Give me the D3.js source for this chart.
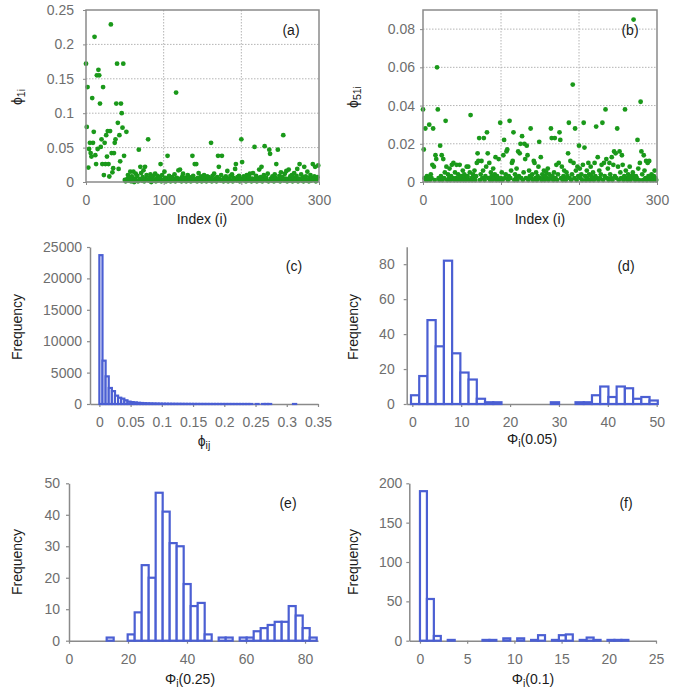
<!DOCTYPE html>
<html>
<head>
<meta charset="utf-8">
<script src="https://cdnjs.cloudflare.com/ajax/libs/d3/7.8.5/d3.min.js"></script>
<style>
body { margin: 0; background: #fff; }
text { font-family: "Liberation Sans", Arial, sans-serif; }
.tick text { fill: #6e6e6e; font-size: 14px; }
.title { fill: #1a1a1a; font-size: 14px; }
</style>
</head>
<body>
<script>
// (a) phi_1i, index 0..299
var phi1 = [
 0.172,0.080,0.138,0.021,0.048,0.057,0.042,0.037,0.122,0.057,
 0.073,0.211,0.039,0.026,0.155,0.048,0.163,0.155,0.114,0.051,
 0.062,0.026,0.138,0.010,0.057,0.026,0.068,0.037,0.074,0.026,
 0.008,0.074,0.229,0.042,0.014,0.020,0.042,0.057,0.062,0.114,
 0.172,0.086,0.019,0.068,0.030,0.114,0.100,0.079,0.172,0.038,
 0.003,0.001,0.073,0.004,0.010,0.002,0.006,0.015,0.001,0.008,
 0.003,0.015,0.000,0.005,0.012,0.002,0.009,0.001,0.047,0.004,
 0.022,0.013,0.002,0.007,0.017,0.001,0.022,0.005,0.010,0.003,
 0.062,0.002,0.006,0.011,0.000,0.004,0.008,0.002,0.003,0.012,
 0.001,0.005,0.009,0.002,0.004,0.007,0.026,0.001,0.010,0.003,
 0.002,0.015,0.006,0.001,0.004,0.038,0.002,0.009,0.005,0.001,
 0.003,0.007,0.002,0.004,0.011,0.001,0.130,0.006,0.003,0.017,
 0.002,0.018,0.005,0.001,0.008,0.012,0.003,0.002,0.006,0.001,
 0.004,0.010,0.002,0.007,0.003,0.001,0.005,0.038,0.009,0.002,
 0.026,0.004,0.026,0.001,0.006,0.013,0.002,0.004,0.008,0.001,
 0.003,0.006,0.010,0.002,0.005,0.001,0.008,0.003,0.007,0.002,
 0.004,0.057,0.001,0.009,0.003,0.012,0.002,0.005,0.001,0.007,
 0.038,0.022,0.004,0.002,0.010,0.038,0.003,0.001,0.006,0.002,
 0.008,0.004,0.016,0.001,0.005,0.003,0.009,0.002,0.011,0.001,
 0.006,0.004,0.019,0.026,0.002,0.007,0.003,0.009,0.001,0.005,
 0.062,0.029,0.003,0.008,0.002,0.006,0.001,0.010,0.004,0.002,
 0.007,0.012,0.003,0.001,0.005,0.013,0.002,0.051,0.004,0.009,
 0.001,0.006,0.003,0.018,0.002,0.007,0.022,0.001,0.004,0.010,
 0.052,0.003,0.006,0.002,0.012,0.001,0.047,0.041,0.005,0.002,
 0.008,0.003,0.001,0.011,0.006,0.026,0.002,0.047,0.004,0.009,
 0.001,0.014,0.003,0.007,0.068,0.002,0.012,0.005,0.016,0.001,
 0.004,0.018,0.002,0.008,0.003,0.010,0.001,0.006,0.013,0.002,
 0.004,0.009,0.019,0.001,0.005,0.026,0.003,0.011,0.002,0.007,
 0.001,0.022,0.004,0.008,0.002,0.015,0.003,0.001,0.006,0.010,
 0.002,0.005,0.026,0.003,0.008,0.022,0.001,0.004,0.007,0.024
];
// (b) phi_51i, index 0..299
var phi51 = [
 0.038,0.017,0.002,0.028,0.001,0.003,0.001,0.002,0.030,0.001,
 0.004,0.002,0.009,0.028,0.008,0.001,0.014,0.012,0.060,0.038,
 0.002,0.001,0.019,0.003,0.014,0.001,0.012,0.002,0.005,0.032,
 0.008,0.001,0.004,0.002,0.007,0.001,0.003,0.009,0.002,0.010,
 0.001,0.005,0.002,0.009,0.001,0.004,0.002,0.009,0.001,0.003,
 0.002,0.006,0.001,0.004,0.002,0.001,0.008,0.003,0.008,0.001,
 0.005,0.035,0.002,0.001,0.004,0.002,0.006,0.001,0.003,0.010,
 0.015,0.011,0.023,0.001,0.004,0.011,0.002,0.006,0.023,0.001,
 0.003,0.008,0.026,0.015,0.002,0.010,0.001,0.005,0.003,0.001,
 0.007,0.002,0.004,0.013,0.001,0.003,0.002,0.012,0.001,0.031,
 0.002,0.005,0.001,0.014,0.022,0.002,0.004,0.016,0.017,0.001,
 0.003,0.032,0.002,0.006,0.010,0.011,0.026,0.001,0.004,0.002,
 0.007,0.001,0.016,0.003,0.015,0.020,0.002,0.024,0.001,0.005,
 0.020,0.012,0.002,0.019,0.014,0.001,0.006,0.003,0.028,0.002,
 0.004,0.001,0.011,0.010,0.002,0.005,0.001,0.003,0.008,0.021,
 0.002,0.013,0.001,0.004,0.002,0.006,0.001,0.003,0.005,0.002,
 0.007,0.001,0.004,0.002,0.028,0.023,0.003,0.001,0.005,0.023,
 0.002,0.009,0.001,0.004,0.010,0.026,0.022,0.002,0.008,0.001,
 0.003,0.006,0.002,0.001,0.005,0.003,0.015,0.031,0.002,0.011,
 0.001,0.004,0.051,0.010,0.002,0.028,0.006,0.001,0.008,0.003,
 0.019,0.007,0.002,0.004,0.001,0.009,0.031,0.018,0.003,0.001,
 0.006,0.002,0.010,0.004,0.001,0.008,0.003,0.002,0.005,0.001,
 0.010,0.003,0.029,0.002,0.013,0.001,0.006,0.002,0.004,0.009,
 0.031,0.001,0.010,0.003,0.038,0.012,0.002,0.007,0.001,0.010,
 0.004,0.002,0.013,0.001,0.009,0.016,0.003,0.015,0.002,0.028,
 0.008,0.001,0.016,0.005,0.002,0.014,0.009,0.001,0.003,0.038,
 0.006,0.002,0.001,0.004,0.002,0.008,0.001,0.003,0.002,0.005,
 0.085,0.003,0.001,0.003,0.002,0.022,0.007,0.001,0.010,0.042,
 0.016,0.004,0.001,0.014,0.006,0.002,0.011,0.001,0.010,0.003,
 0.011,0.002,0.001,0.004,0.002,0.001,0.003,0.006,0.002,0.001
];
var idxTicks = [0, 100, 200, 300];
var aYTicks = [0, 0.05, 0.1, 0.15, 0.2, 0.25];
var bYTicks = [0, 0.02, 0.04, 0.06, 0.08];

// (c) phi_ij histogram, bins of 0.005 from 0
var cStart = 0, cWidth = 0.005;
var cCounts = [23700,6900,4400,2550,2050,1330,1000,850,590,380,
 300,250,190,160,130,110,95,80,70,60,
 52,45,40,35,30,27,24,20,18,16,
 14,12,10,9,8,7,6,6,5,4,
 4,3,3,2,2,2,1,1,1,0,
 1,0,1,1,1,0,0,0,0,0,
 0,0,1,0,0,0,0,0,0,0];
var cXTicks = [0, 0.05, 0.1, 0.15, 0.2, 0.25, 0.3, 0.35];
var cYTicks = [0, 5000, 10000, 15000, 20000, 25000];

// (d) Phi_i(0.05)
var dStart = -0.27, dWidth = 1.683;
var dCounts = [5,16,48,33,82,29,18,14,3,1, 1,0,0,0,0,0,0,1,0,0, 1,1,5,10,4,10,9,3,4,2];
var dXTicks = [0, 10, 20, 30, 40, 50];
var dYTicks = [0, 20, 40, 60, 80];

// (e) Phi_i(0.25)
var eStart = 12.77, eWidth = 2.373;
var eCounts = [1,0,0,2,9,24,20,47,41,31, 30,18,11,12,2,0,1,1,0,1, 1,3,4,5,6,6,11,8,4,1];
var eXTicks = [0, 20, 40, 60, 80];
var eYTicks = [0, 10, 20, 30, 40, 50];

// (f) Phi_i(0.1)
var fStart = 0, fWidth = 0.7357;
var fCounts = [190,53,6,0,1,0,0,0,0,1, 1,0,3,0,3,0,1,7,0,1, 7,8,0,1,4,1,0,1,1,1];
var fXTicks = [0, 5, 10, 15, 20, 25];
var fYTicks = [0, 50, 100, 150, 200];

var green = "#1a991a", blue = "#4b5fd3", axisGrey = "#8a8a8a";

var svg = d3.select("body").append("svg").attr("width", 685).attr("height", 696);

function label(x, y, main, sub, tail, rotate) {
  var t = svg.append("text").attr("class", "title").attr("text-anchor", "middle");
  if (rotate) t.attr("transform", "translate(" + x + "," + y + ") rotate(-90)");
  else t.attr("x", x).attr("y", y);
  t.append("tspan").text(main);
  if (sub) t.append("tspan").attr("font-size", "10.5px").attr("dy", 3).text(sub);
  if (tail) t.append("tspan").attr("dy", -3).text(tail);
  return t;
}

function tag(x, y, s) {
  svg.append("text").attr("class", "title").attr("x", x).attr("y", y)
    .attr("text-anchor", "middle").text(s);
}

function scatterPanel(vals, x0, x1, yMax, yTicks, pad) {
  var y0 = 10, y1 = 182;
  var x = d3.scaleLinear().domain([0, 300]).range([x0, x1]);
  var y = d3.scaleLinear().domain([0, yMax]).range([y1, y0]);
  var g = svg.append("g");
  g.selectAll(".gx").data(idxTicks.slice(1, 3)).join("line")
    .attr("x1", d => x(d)).attr("x2", d => x(d)).attr("y1", y0).attr("y2", y1)
    .attr("stroke", "#b4b4b4").attr("stroke-dasharray", "1.5,1.5");
  g.selectAll(".gy").data(yTicks.filter(d => d > 0 && y(d) > y0 + 1)).join("line")
    .attr("x1", x0).attr("x2", x1).attr("y1", d => y(d)).attr("y2", d => y(d))
    .attr("stroke", "#b4b4b4").attr("stroke-dasharray", "1.5,1.5");
  g.append("g").attr("transform", "translate(0," + y1 + ")")
    .call(d3.axisBottom(x).tickValues(idxTicks).tickFormat(d => d).tickSize(3).tickPadding(10))
    .call(s => s.select(".domain").remove())
    .call(s => s.selectAll(".tick line").attr("stroke", axisGrey));
  g.append("g").attr("transform", "translate(" + x0 + ",0)")
    .call(d3.axisLeft(y).tickValues(yTicks).tickFormat(d => d).tickSize(3).tickPadding(pad))
    .call(s => s.select(".domain").remove())
    .call(s => s.selectAll(".tick line").attr("stroke", axisGrey));
  g.append("g").selectAll("circle").data(vals).join("circle")
    .attr("cx", (d, i) => x(i)).attr("cy", d => y(d)).attr("r", 2.4).attr("fill", green);
  g.append("rect").attr("x", x0).attr("y", y0).attr("width", x1 - x0).attr("height", y1 - y0)
    .attr("fill", "none").attr("stroke", axisGrey).attr("stroke-width", 1.5);
}

function histPanel(counts, start, width, xDom, xr, yr, yMax, xTicks, yTicks, pad) {
  var x = d3.scaleLinear().domain(xDom).range(xr);
  var y = d3.scaleLinear().domain([0, yMax]).range(yr);
  var bins = counts.map((c, k) => ({ x0: start + k * width, x1: start + (k + 1) * width, c: c }))
    .filter(b => b.c > 0);
  var g = svg.append("g");
  g.append("g").attr("transform", "translate(0," + yr[0] + ")")
    .call(d3.axisBottom(x).tickValues(xTicks).tickFormat(d => d).tickSize(3).tickSizeOuter(0).tickPadding(10))
    .call(s => s.select(".domain").attr("stroke", axisGrey).attr("stroke-width", 1.5))
    .call(s => s.selectAll(".tick line").attr("stroke", axisGrey).attr("stroke-width", 1.2));
  g.append("g").attr("transform", "translate(" + xr[0] + ",0)")
    .call(d3.axisLeft(y).tickValues(yTicks).tickFormat(d => d).tickSize(3).tickSizeOuter(0).tickPadding(pad))
    .call(s => s.select(".domain").attr("stroke", axisGrey).attr("stroke-width", 1.5))
    .call(s => s.selectAll(".tick line").attr("stroke", axisGrey).attr("stroke-width", 1.2));
  g.append("g").selectAll("rect").data(bins).join("rect")
    .attr("x", b => x(b.x0)).attr("width", b => x(b.x1) - x(b.x0))
    .attr("y", b => y(b.c)).attr("height", b => y(0) - y(b.c))
    .attr("fill", "#fff").attr("stroke", blue).attr("stroke-width", 2.2);
}

// (a)
scatterPanel(phi1, 86, 319, 0.25, aYTicks, 9);
label(202, 224, "Index (i)");
label(22, 97, "\u03D5", "1i", null, true);
tag(291, 35, "(a)");

// (b)
scatterPanel(phi51, 423, 657, 0.09, bYTicks, 5);
label(540, 224, "Index (i)");
label(358, 97, "\u03D5", "51i", null, true);
tag(630, 35, "(b)");

// (c)
histPanel(cCounts, cStart, cWidth, [-0.015, 0.35], [90, 318], [404, 247], 25000, cXTicks, cYTicks, 5);
label(204, 446, "\u03D5", "ij");
label(22, 327, "Frequency", null, null, true);
tag(294, 271, "(c)");

// (d)
histPanel(dCounts, dStart, dWidth, [-1.15, 50], [406.7, 656.7], [404, 246.7], 90, dXTicks, dYTicks, 9);
label(532, 444, "\u03A6", "i", "(0.05)");
label(358, 327, "Frequency", null, null, true);
tag(626, 271, "(d)");

// (e)
histPanel(eCounts, eStart, eWidth, [0, 84.4], [69, 318], [640.7, 483.3], 50, eXTicks, eYTicks, 6);
label(190, 684, "\u03A6", "i", "(0.25)");
label(22, 562, "Frequency", null, null, true);
tag(288, 508, "(e)");

// (f)
histPanel(fCounts, fStart, fWidth, [-1.13, 25], [409.3, 656], [640.7, 483.3], 200, fXTicks, fYTicks, 4);
label(533, 684, "\u03A6", "i", "(0.1)");
label(358, 562, "Frequency", null, null, true);
tag(626, 508, "(f)");
</script>
</body>
</html>
